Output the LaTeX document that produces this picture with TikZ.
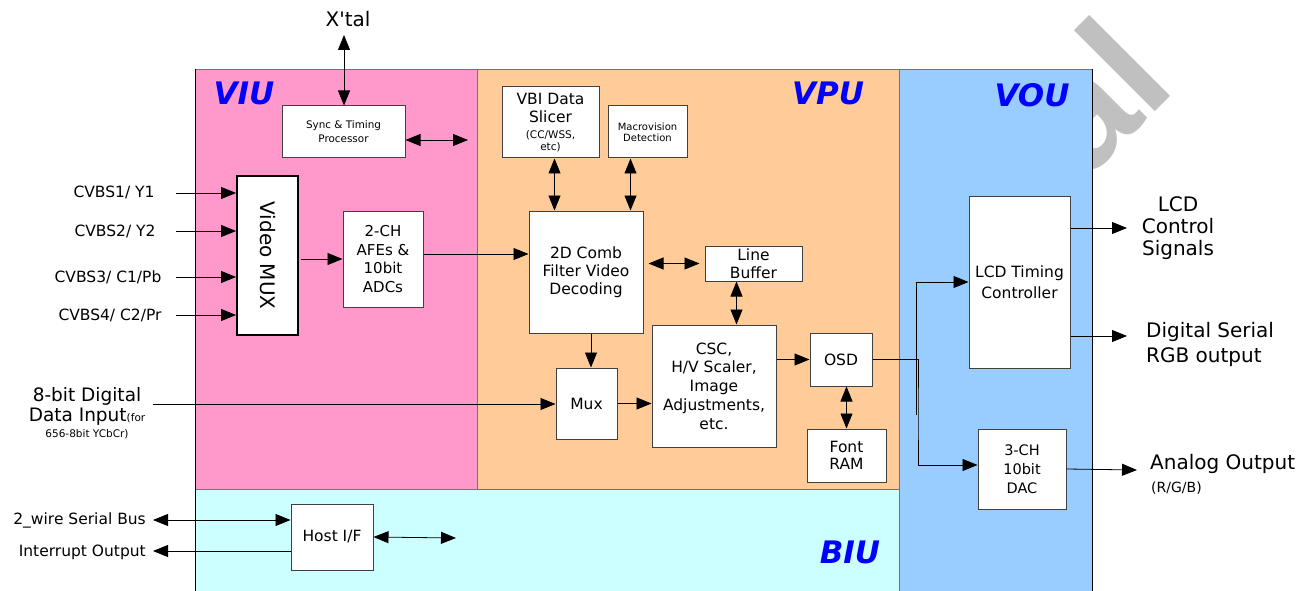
\documentclass[tikz,border=0pt]{standalone}
\usepackage{fontspec}
\setmainfont{DejaVu Sans}
\newfontfamily\wmfont{Liberation Sans}
\usetikzlibrary{arrows.meta,positioning}

\definecolor{viupink}{HTML}{FF99CC}
\definecolor{vpuorange}{HTML}{FFCC99}
\definecolor{voublue}{HTML}{99CCFF}
\definecolor{biucyan}{HTML}{CCFFFF}
\definecolor{wmgray}{HTML}{C0C0C0}

\newcommand{\lblbig}{\fontsize{20}{22}\selectfont}
\newcommand{\lblmid}{\fontsize{15.5}{18.5}\selectfont}
\newcommand{\lblsmall}{\fontsize{10.5}{12}\selectfont}
\newcommand{\lblunit}{\fontsize{31}{31}\selectfont\bfseries\itshape}

\begin{document}
\begin{tikzpicture}[
        x=1pt, y=-1pt,
        >={Triangle[length=15pt,width=12pt]},
        every node/.style={inner sep=0pt},
        block/.style={draw=black!75, line width=1pt, fill=white, align=center, font=\lblmid},
        sig/.style={line width=0.8pt},
        region/.style={draw=black!55, line width=0.6pt},
        unit/.style={font=\lblunit, text=blue},
        lbl/.style={align=center, font=\lblbig}
    ]
    \useasboundingbox (0,0) rectangle (1315,591);

    % Watermark
    \node[rotate=45, anchor=base east, text=wmgray, font=\wmfont\bfseries\fontsize{158}{158}\selectfont] (wmark) at (1179,88) {al};

    % Regions
    \draw[region, fill=viupink] (195,69) rectangle (477,489);
    \draw[region, fill=vpuorange] (477,69) rectangle (899,489);
    \draw[region, fill=biucyan] (195,489) rectangle (899,595);
    \draw[region, fill=voublue] (899,69) rectangle (1092,595);
    \draw[black, line width=0.8pt] (195,69) -- (195,595);
    \draw[black, line width=0.8pt] (1092,69) -- (1092,595);

    \node[unit] (viu) at (244,93) {VIU};
    \node[unit] (vpu) at (828,93) {VPU};
    \node[unit] (vou) at (1032,95) {VOU};
    \node[unit] (biu) at (850,552) {BIU};

    % Nodes
    \node[block, minimum width=123pt, minimum height=52pt, font=\fontsize{10.4}{14}\selectfont] (sync) at (343.5,132) {Sync \& Timing\\Processor};
    \node[block, draw=black, line width=1.8pt, rotate=-90, minimum width=159pt, minimum height=61pt, font=\fontsize{20}{20}\selectfont] (vmux) at (267.5,255.5) {Video MUX};
    \node[block, minimum width=80pt, minimum height=96pt, font=\fontsize{15}{18.5}\selectfont] (adc) at (383,259) {2-CH\\AFEs \&\\10bit\\ADCs};

    \node[block, minimum width=97pt, minimum height=71pt] (vbi) at (550.5,122.5) {VBI Data\\Slicer\\[-3pt]{\lblsmall (CC/WSS,}\\[-6pt]{\lblsmall etc)}};
    \node[block, minimum width=79pt, minimum height=52pt, font=\fontsize{10}{11.3}\selectfont] (macro) at (647.5,132) {Macrovision\\Detection};
    \node[block, minimum width=114pt, minimum height=122pt, font=\fontsize{15.5}{18}\selectfont] (comb) at (586,272) {2D Comb\\Filter Video\\Decoding};
    \node[block, minimum width=97pt, minimum height=35pt] (linebuf) at (753.5,263.5) {Line\\Buffer};
    \node[block, minimum width=124pt, minimum height=122pt, font=\fontsize{15.5}{18.7}\selectfont] (csc) at (714,386) {CSC,\\H/V Scaler,\\Image\\Adjustments,\\etc.};
    \node[block, minimum width=61pt, minimum height=71pt] (mux) at (586.5,403.5) {Mux};
    \node[block, minimum width=62pt, minimum height=53pt] (osd) at (841,359.5) {OSD};
    \node[block, minimum width=79pt, minimum height=53pt, font=\fontsize{15.5}{17.3}\selectfont] (fontram) at (846.5,455.5) {Font\\RAM};

    \node[block, minimum width=101pt, minimum height=172pt, font=\fontsize{15.5}{21}\selectfont] (lcd) at (1019.5,282) {LCD Timing\\Controller};
    \node[block, minimum width=88pt, minimum height=80pt, font=\fontsize{14.5}{19}\selectfont] (dac) at (1022,469) {3-CH\\10bit\\DAC};

    \node[block, minimum width=82pt, minimum height=66pt] (host) at (332,537) {Host I/F};

    % Labels
    \node[lbl] (xtal) at (348,19) {X\textquotesingle tal};
    \node[lbl, font=\lblmid] (cvbs1) at (114,192) {CVBS1/ Y1};
    \node[lbl, font=\lblmid] (cvbs2) at (115,231) {CVBS2/ Y2};
    \node[lbl, font=\lblmid] (cvbs3) at (108,277) {CVBS3/ C1/Pb};
    \node[lbl, font=\lblmid] (cvbs4) at (110,315) {CVBS4/ C2/Pr};
    \node[lbl, font=\fontsize{18.5}{20}\selectfont] (dinlbl) at (87,413) {8-bit Digital\\Data Input{\lblsmall(for}\\[-4pt]{\lblsmall 656-8bit YCbCr)}};
    \node[lbl, font=\lblmid, anchor=east] (i2clbl) at (146,520) {2\_wire Serial Bus};
    \node[lbl, font=\lblmid, anchor=east] (intlbl) at (146,552) {Interrupt Output};
    \node[lbl] (lcdlbl) at (1178,228) {LCD\\Control\\Signals};
    \node[lbl, align=left, anchor=west, font=\fontsize{20}{25}\selectfont] (rgblbl) at (1146,344) {Digital Serial\\RGB output};
    \node[lbl, anchor=west] (analbl) at (1150,464) {Analog Output};
    \node[lbl, anchor=west, font=\fontsize{14}{14}\selectfont] (rgbsub) at (1151,488) {(R/G/B)};

    % Free ends
    \coordinate (xtalpin) at (344,35);
    \coordinate (syncend) at (468,140);
    \coordinate (in1) at (176,193);
    \coordinate (in2) at (176,231);
    \coordinate (in3) at (176,277);
    \coordinate (in4) at (176,315);
    \coordinate (dinpin) at (153,404);
    \coordinate (stub) at (916,415);
    \coordinate (lcdctl) at (1127,228);
    \coordinate (rgbout) at (1127,336);
    \coordinate (anaout) at (1137,470);
    \coordinate (i2cpin) at (153,520);
    \coordinate (intpin) at (153,551);
    \coordinate (hostend) at (456,538);

    % Edges
    \draw[sig, <->] (sync.north -| xtalpin) -- (xtalpin);
    \draw[sig, <->] (sync.east |- syncend) -- (syncend);
    \draw[sig, ->] (in1) -- (in1 -| vmux.south);
    \draw[sig, ->] (in2) -- (in2 -| vmux.south);
    \draw[sig, ->] (in3) -- (in3 -| vmux.south);
    \draw[sig, ->] (in4) -- (in4 -| vmux.south);
    \draw[sig, ->] ([xshift=2pt]vmux.north |- adc.west) -- (adc.west);
    \draw[sig, ->] ([yshift=5pt]adc.east) -- ([yshift=5pt]adc.east -| comb.west);
    \draw[sig, <->] ([xshift=4pt]vbi.south) -- ([xshift=4pt]vbi.south |- comb.north);
    \draw[sig, <->] ([xshift=-17pt]macro.south) -- ([xshift=-17pt]macro.south |- comb.north);
    \draw[sig, <->, shorten <=5pt, shorten >=5pt] (comb.east |- linebuf.west) -- (linebuf.west);
    \draw[sig, <->] ([xshift=-17pt]linebuf.south) -- ([xshift=-17pt]linebuf.south |- csc.north);
    \draw[sig, ->] ([xshift=5pt]comb.south) -- ([xshift=5pt]comb.south |- mux.north);
    \draw[sig, ->] (dinpin) -- (dinpin -| mux.west);
    \draw[sig, ->] (mux.east) -- (mux.east -| csc.west);
    \draw[sig, ->] (csc.east |- osd.west) -- (osd.west);
    \draw[sig, <->] (fontram.north) -- (fontram.north |- osd.south);
    \draw[sig, ->] (stub) |- (lcd.west);
    \draw[sig, ->] (osd.east) -| ([xshift=2pt]stub) |- ([yshift=4pt]dac.west);
    \draw[sig, ->] (lcdctl -| lcd.east) -- (lcdctl);
    \draw[sig, ->] (rgbout -| lcd.east) -- (rgbout);
    \draw[sig, ->] (dac.east) -- (anaout);
    \draw[sig, <->] (i2cpin) -- (i2cpin -| host.west);
    \draw[sig, ->] (intpin -| host.west) -- (intpin);
    \draw[sig, <->] (host.east) -- (hostend);

\end{tikzpicture}
\end{document}
